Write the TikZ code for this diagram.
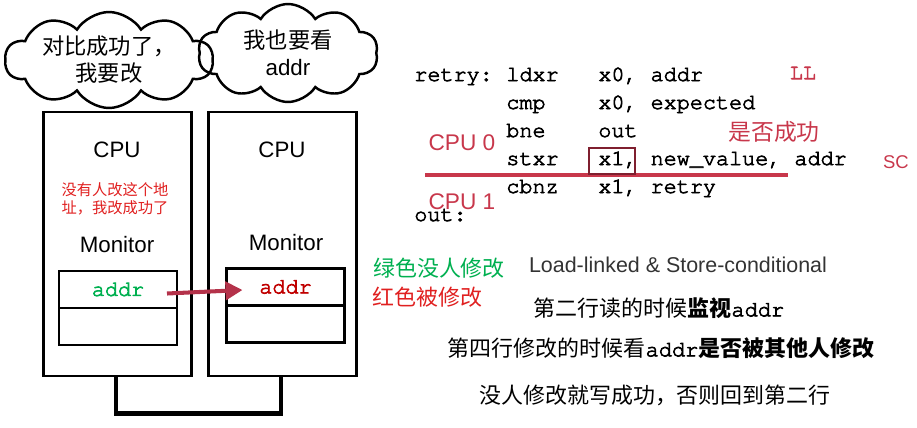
\documentclass[tikz,border=0pt]{standalone}
\usepackage{fontspec}
\setmainfont{Liberation Sans}
\setmonofont{TeX Gyre Cursor}[FakeBold=3]
\newfontfamily\cjk{Noto Sans CJK SC}
\usepackage{tikz}
\usetikzlibrary{shapes, shapes.symbols, positioning, arrows.meta, calc}

\definecolor{annored}{HTML}{C8374B}
\definecolor{boxred}{HTML}{7F1F2F}
\definecolor{okgreen}{HTML}{00B050}
\definecolor{badred}{HTML}{E02020}
\definecolor{addrred}{HTML}{C00000}
\definecolor{arrowred}{HTML}{B4324A}
\definecolor{textgray}{HTML}{333333}

\begin{document}
\begin{tikzpicture}[
    x=0.02cm, y=-0.02cm,
    >=Stealth,
    every node/.style={align=center},
    bubble/.style={draw, line width=1.4pt, cloud, cloud puffs=10, cloud puff arc=115,
        cloud ignores aspect, inner sep=0pt, font=\cjk\fontsize{12.7}{15.3}\selectfont},
    cpubox/.style={draw, line width=1.4pt, minimum width=2.96cm, minimum height=5.28cm},
    cell/.style={draw, line width=1.4pt, outer sep=0pt, minimum width=2.36cm,
        minimum height=0.74cm, font=\ttfamily\fontsize{12.4}{14}\selectfont},
    cpulabel/.style={font=\fontsize{12.7}{15}\selectfont},
    codeline/.style={font=\ttfamily\fontsize{12.4}{14}\selectfont, anchor=base west, inner sep=0pt},
    annot/.style={text=annored, inner sep=0pt},
    cjktext/.style={font=\cjk\fontsize{12.5}{15}\selectfont, inner sep=0pt},
    markarrow/.style={-{Triangle[length=0.34cm,width=0.36cm]}, line width=2.3pt, arrowred},
    bus/.style={line width=2.8pt},
    cutline/.style={line width=2.3pt, annored},
    xbox/.style={line width=1pt, boxred}
]
\useasboundingbox (0,0) rectangle (917,427);

% Wolken
\node[bubble, minimum width=4.16cm, minimum height=1.86cm] (think0) at (109,60) {对比成功了，\\我要改};
\node[bubble, minimum width=3.6cm, minimum height=1.96cm] (think1) at (288,53) {我也要看\\{\fontspec{Liberation Sans}addr}};

% Linke CPU
\node[cpubox] (cpu0) at (117.5,244) {};
\node[cpulabel] (name0) at (117,150) {CPU};
\node[cjktext, text=badred, font=\cjk\fontsize{8.7}{10.2}\selectfont] (ok0) at (115,199) {没有人改这个地\\址，我改成功了};
\node[cpulabel] (mon0) at (117,245) {Monitor};
\node[cell, text=okgreen] (m0a) at (118,289.5) {addr};
\node[cell, below=0pt of m0a] (m0b) {};

% Rechte CPU
\node[cpubox] (cpu1) at (282.5,244) {};
\node[cpulabel] (name1) at (282,150) {CPU};
\node[cpulabel] (mon1) at (286,243) {Monitor};
\node[cell, text=addrred] (m1a) at (285.5,287) {addr};
\node[cell, below=0pt of m1a] (m1b) {};

% Pfeil und Bus
\draw[markarrow] ([xshift=-0.2cm,yshift=-0.08cm]m0a.east) -- ([xshift=0.32cm,yshift=-0.06cm]m1a.west);
\draw[bus] ([xshift=-0.03cm]cpu0.south) -- ++(0,36) -| ([xshift=-0.03cm]cpu1.south);

% Code
\node[codeline] (lbl1) at (414,81) {retry:};
\node[codeline] (op1) at (506,81) {ldxr};
\node[codeline] (arg1) at (598,81) {x0, addr};
\node[codeline] (op2) at (506,109) {cmp};
\node[codeline] (arg2) at (598,109) {x0, expected};
\node[codeline] (op3) at (506,137) {bne};
\node[codeline] (arg3) at (598,137) {out};
\node[codeline] (op4) at (506,165) {stxr};
\node[codeline] (arg4) at (598,165) {x1, new\_value, addr};
\node[codeline] (op5) at (506,193) {cbnz};
\node[codeline] (arg5) at (598,193) {x1, retry};
\node[codeline] (lbl6) at (414,221) {out:};

% Markierungen im Code
\draw[cutline] (425,175) -- (788,175);
\draw[xbox] (589,148) rectangle (635,174);
\node[annot, font=\ttfamily\fontsize{12.5}{14}\selectfont] (ll) at (803,73) {LL};
\node[annot, font=\fontsize{10.5}{12}\selectfont] (sc) at (896,162) {SC};
\node[annot, font=\cjk\fontsize{13}{15}\selectfont] (succ) at (774,132) {是否成功};
\node[annot, font=\fontsize{12.9}{15}\selectfont] (cpuA) at (462,143) {CPU 0};
\node[annot, font=\fontsize{12.9}{15}\selectfont] (cpuB) at (462,202) {CPU 1};

% Legende und Erklaerung
\node[cjktext, text=okgreen] (green) at (439,268) {绿色没人修改};
\node[cjktext, text=badred] (red) at (427.5,297) {红色被修改};
\node[cpulabel, text=textgray, font=\fontsize{12.2}{15}\selectfont] (llsc) at (678,265) {Load-linked \& Store-conditional};
\node[cjktext] (line2) at (659,308) {第二行读的时候\textbf{监视}{\ttfamily addr}};
\node[cjktext] (line4) at (661,348) {第四行修改的时候看{\ttfamily addr}\textbf{是否被其他人修改}};
\node[cjktext] (retry) at (655,395) {没人修改就写成功，否则回到第二行};

\end{tikzpicture}
\end{document}
